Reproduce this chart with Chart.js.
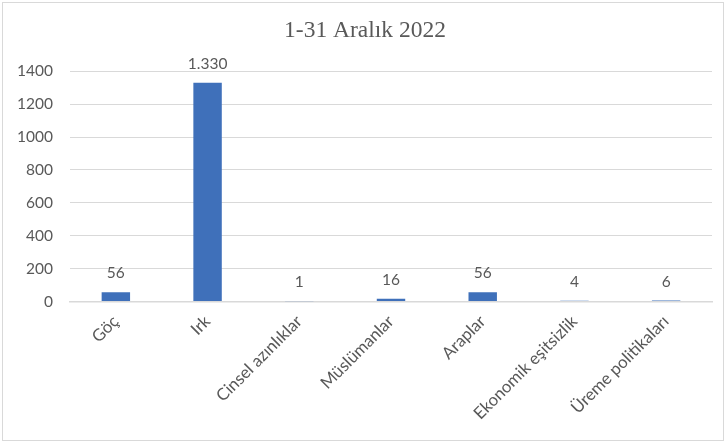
<!DOCTYPE html>
<html>
<head>
<meta charset="utf-8">
<script src="https://cdn.jsdelivr.net/npm/chart.js@4"></script>
<style>
  html, body { margin: 0; padding: 0; background: #ffffff; }
  #wrap { width: 726px; height: 442px; position: relative; }
</style>
</head>
<body>
<div id="wrap"><canvas id="chart" width="726" height="442"></canvas></div>
<script>
// Konular ve 1-31 Aralık 2022 dönemi sayıları
const categories = ['Göç', 'Irk', 'Cinsel azınlıklar', 'Müslümanlar', 'Araplar', 'Ekonomik eşitsizlik', 'Üreme politikaları'];
const counts = [56, 1330, 1, 16, 56, 4, 6];
const yTicks = [0, 200, 400, 600, 800, 1000, 1200, 1400];
const chartTitle = '1-31 Aralık 2022';

const textColor = '#595959';
const gridColor = '#d9d9d9';
const barColor = '#3f70ba';
const sansFont = 'Lato, "Open Sans", sans-serif';

// Turkish-style thousands separator: 1330 -> "1.330"
function formatTr(v) {
  return String(v).replace(/\B(?=(\d{3})+(?!\d))/g, '.');
}

// Outer frame around the whole chart
const framePlugin = {
  id: 'frame',
  beforeDraw(chart) {
    const ctx = chart.ctx;
    ctx.save();
    ctx.fillStyle = '#ffffff';
    ctx.fillRect(0, 0, chart.width, chart.height);
    ctx.strokeStyle = gridColor;
    ctx.lineWidth = 1;
    ctx.strokeRect(2.5, 2.5, chart.width - 5, chart.height - 4);
    ctx.restore();
  }
};

// Value labels above each bar
const valueLabels = {
  id: 'valueLabels',
  afterDatasetsDraw(chart) {
    const ctx = chart.ctx;
    const meta = chart.getDatasetMeta(0);
    const data = chart.data.datasets[0].data;
    ctx.save();
    ctx.font = '15.5px ' + sansFont;
    ctx.fillStyle = textColor;
    ctx.textAlign = 'center';
    ctx.textBaseline = 'alphabetic';
    meta.data.forEach((bar, i) => {
      ctx.fillText(formatTr(data[i]), bar.x, bar.y - 14);
    });
    ctx.restore();
  }
};

new Chart(document.getElementById('chart'), {
  type: 'bar',
  data: {
    labels: categories,
    datasets: [{
      data: counts,
      backgroundColor: barColor,
      borderWidth: 0,
      categoryPercentage: 1,
      barPercentage: 0.31
    }]
  },
  options: {
    responsive: false,
    animation: false,
    layout: { padding: { left: 18, right: 14, top: 0, bottom: 0 } },
    plugins: {
      legend: { display: false },
      tooltip: { enabled: false },
      title: {
        display: true,
        text: chartTitle,
        color: textColor,
        font: { family: '"Liberation Serif", "Times New Roman", serif', size: 23.5, weight: 'normal' },
        padding: { top: 17, bottom: 26 }
      }
    },
    scales: {
      x: {
        grid: { display: false, drawTicks: false },
        border: { display: true, color: gridColor, width: 1.5 },
        ticks: {
          color: textColor,
          font: { family: sansFont, size: 16.8 },
          minRotation: 45,
          maxRotation: 45,
          autoSkip: false,
          padding: 10
        },
        afterFit(scale) { scale.height = 140.5; }
      },
      y: {
        min: 0,
        max: 1400,
        afterBuildTicks(scale) { scale.ticks = yTicks.map(v => ({ value: v })); },
        grid: { color: gridColor, drawTicks: false, lineWidth: 1 },
        border: { display: false },
        ticks: {
          color: textColor,
          font: { family: sansFont, size: 15.5 },
          padding: 17,
          callback: v => String(v)
        },
        afterFit(scale) { scale.width = 52; }
      }
    }
  },
  plugins: [framePlugin, valueLabels]
});
</script>
</body>
</html>
